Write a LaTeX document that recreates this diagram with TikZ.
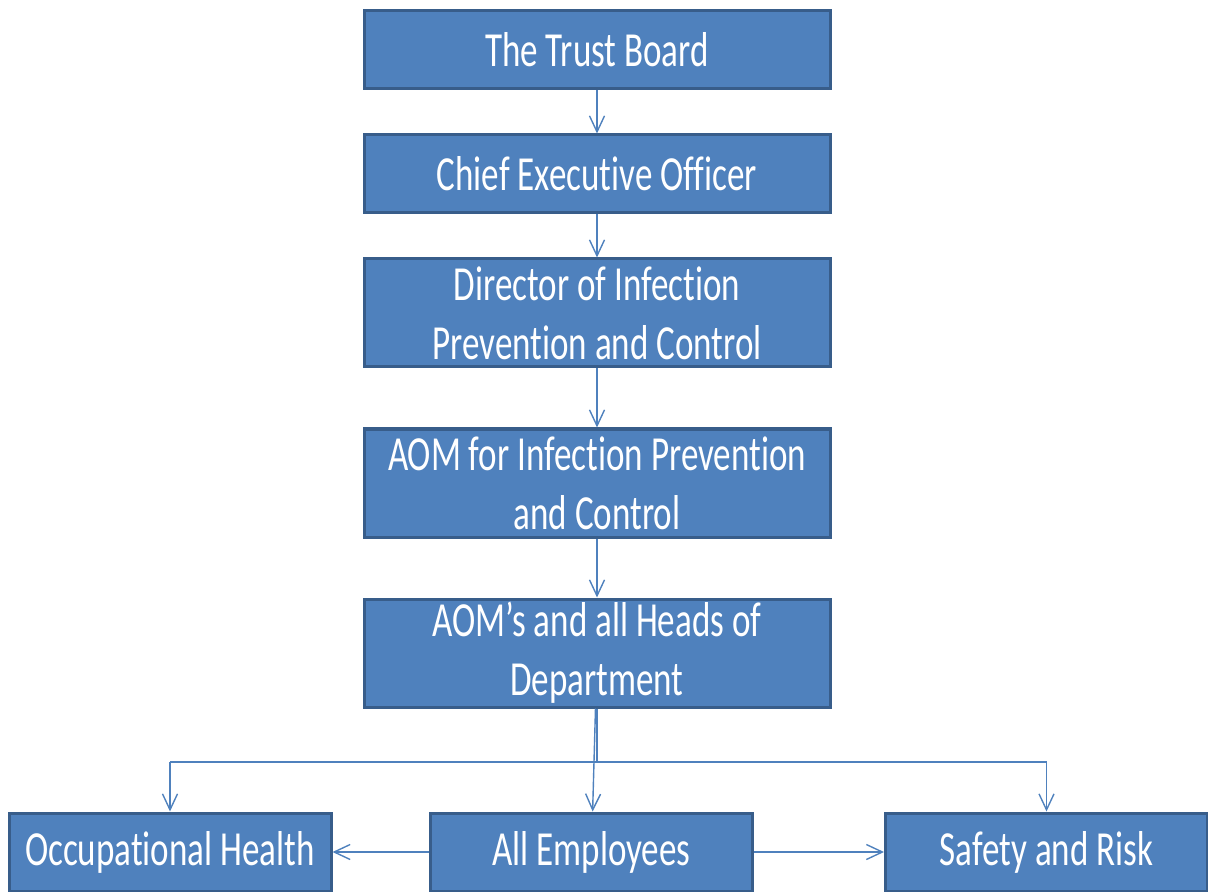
\documentclass[tikz,border=0pt]{standalone}
\usepackage{fontspec}
\usetikzlibrary{positioning, arrows.meta}
\newfontfamily\boxfont[FakeStretch=0.715, Ligatures=NoCommon]{Carlito}
\definecolor{boxblue}{HTML}{4F81BD}
\definecolor{boxedge}{HTML}{385D8A}
\tikzset{
  orgbox/.style={rectangle, draw=boxedge, line width=1.5pt, fill=boxblue, text=white, minimum width=233pt, minimum height=39pt, align=center, inner sep=0pt, font=\boxfont\fontsize{24.5}{29.5}\selectfont},
  tallbox/.style={orgbox, minimum height=54pt},
  leafbox/.style={orgbox, minimum width=161pt},
  wire/.style={draw=boxblue, line width=0.7pt},
  link/.style={wire, -{Straight Barb[length=8pt, width=7.5pt]}},
}

\begin{document}
\begin{tikzpicture}[x=0.5pt, y=-0.5pt]
  \useasboundingbox (0,0) rectangle (1208,892);

  % Chain of responsibility
  \node[orgbox] (board) at (597,50) {The Trust Board};
  \node[orgbox] (ceo) at (597,174) {Chief Executive Officer};
  \node[tallbox] (dipc) at (597,313) {Director of Infection\\Prevention and Control};
  \node[tallbox] (aomipc) at (597,483) {AOM for Infection Prevention\\and Control};
  \node[tallbox] (aoms) at (597,653) {AOM’s and all Heads of\\Department};

  % Bottom row
  \node[leafbox] (occ) at (170,852) {Occupational Health};
  \node[leafbox] (emp) at (591.5,852) {All Employees};
  \node[leafbox] (safety) at (1046.5,852) {Safety and Risk};

  % Bus above bottom row
  \coordinate (split) at (597,762);
  \coordinate (busl) at (170,762);
  \coordinate (busr) at (1046.5,762);

  \draw[link] (board) -- (ceo);
  \draw[link] (ceo) -- (dipc);
  \draw[link] (dipc) -- (aomipc);
  \draw[link] (aomipc) -- (aoms);

  \draw[wire] (aoms.south) -- (split);
  \draw[wire] (busl) -- (busr);
  \draw[link] (busl) -- (occ);
  \draw[link] (busr) -- (safety);
  \draw[link] (aoms) -- (emp);

  \draw[link] (emp) -- (occ);
  \draw[link] (emp) -- (safety);

\end{tikzpicture}
\end{document}
